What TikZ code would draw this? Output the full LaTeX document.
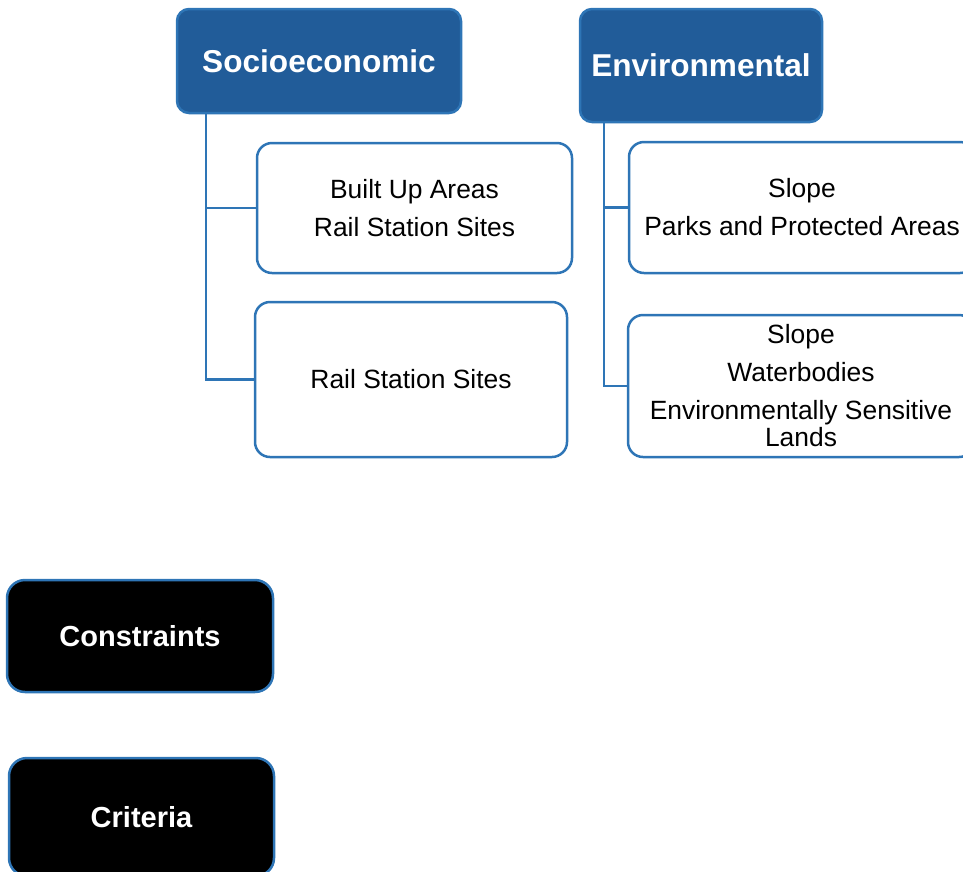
\documentclass[tikz,border=0pt]{standalone}
\usepackage{fontspec}
\setmainfont{Liberation Sans}
\definecolor{headfill}{RGB}{33,92,153}
\definecolor{boxline}{RGB}{46,117,182}
\tikzset{
  headbox/.style={draw=boxline, fill=headfill, line width=2.5pt, rounded corners=12pt,
    inner sep=0pt, text=white, font=\fontsize{31.6}{34}\selectfont\bfseries, align=center},
  itembox/.style={draw=boxline, fill=white, line width=2.5pt, rounded corners=15pt,
    inner sep=0pt, text=black, font=\fontsize{26.4}{27}\selectfont, align=center},
  blackbox/.style={draw=boxline, fill=black, line width=2.5pt, rounded corners=18pt,
    inner sep=0pt, text=white, font=\fontsize{29}{31}\selectfont\bfseries, align=center},
  link/.style={draw=boxline, line width=2.5pt}
}
\begin{document}
\begin{tikzpicture}[x=1pt,y=-1pt]
\useasboundingbox (0,0) rectangle (963,871);
\clip (0,0) rectangle (963,871);
\node[headbox, minimum width=284pt, minimum height=104pt] (socio) at (319,61) {Socioeconomic};
\node[headbox, minimum width=242pt, minimum height=113pt] (env) at (701,65.5) {Environmental};
\node[itembox, minimum width=315pt, minimum height=130pt] (b1) at (414.5,208) {Built Up Areas\\[11pt]Rail Station Sites};
\node[itembox, minimum width=312pt, minimum height=155pt] (b2) at (411,379.5) {Rail Station Sites};
\node[itembox, minimum width=346pt, minimum height=131pt] (b3) at (802,207.5) {Slope\\[11pt]Parks and Protected Areas};
\node[itembox, minimum width=346pt, minimum height=142pt] (b4) at (801,386) {Slope\\[11pt]Waterbodies\\[11pt]Environmentally Sensitive\\Lands};
\node[blackbox, minimum width=266pt, minimum height=112pt] (cons) at (140,636) {Constraints};
\node[blackbox, minimum width=265pt, minimum height=118pt] (crit) at (141.5,817) {Criteria};
\draw[link] (socio.south west) ++(30,0) |- (b1.west);
\draw[link] (socio.south west) ++(30,0) |- (b2.west);
\draw[link] (env.south west) ++(25,0) |- (b3.west);
\draw[link] (env.south west) ++(25,0) |- (b4.west);
\end{tikzpicture}
\end{document}
